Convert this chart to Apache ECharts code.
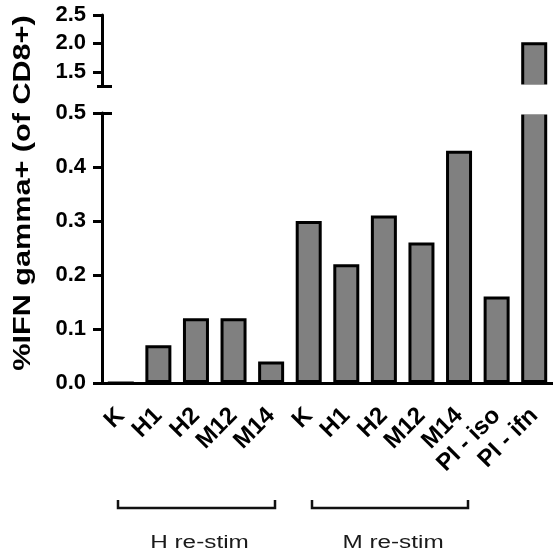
<!DOCTYPE html>
<html>
<head>
<meta charset="utf-8">
<script src="https://cdn.jsdelivr.net/npm/echarts@6/dist/echarts.min.js"></script>
<style>
  html, body { margin: 0; padding: 0; background: #fff; }
  #chart { width: 553px; height: 552px; }
</style>
</head>
<body>
<div id="chart"></div>
<script>
// Stimulation conditions along the x axis
const categories = ['K', 'H1', 'H2', 'M12', 'M14', 'K', 'H1', 'H2', 'M12', 'M14', 'PI - iso', 'PI - ifn'];
// % IFN-gamma positive cells among CD8+ cells
const ifnValues = [0, 0.07, 0.12, 0.12, 0.04, 0.30, 0.22, 0.31, 0.26, 0.43, 0.16, 2.02];
// Broken y axis: lower and upper segments
const lowerRange = [0, 0.5];
const upperRange = [1.25, 2.5];
const upperTickValues = [1.5, 2.0, 2.5];
const groupLabels = ['H re-stim', 'M re-stim'];

const FONT = '"Liberation Sans", Arial, Helvetica, sans-serif';
const BAR_WIDTH = 26;

const chart = echarts.init(document.getElementById('chart'), null, { renderer: 'canvas' });

const axisLineStyle = { color: '#000', width: 3 };
const tickStyle = { color: '#000', width: 3 };
const tickLabel = {
  color: '#000', fontFamily: FONT, fontWeight: 'bold', fontSize: 22, margin: 16,
  formatter: v => Number(v).toFixed(1)
};

// a y axis that only draws one cap tick (for the ends at the axis break)
function capAxis(gridIndex, range, value, inside, length) {
  return {
    type: 'value', gridIndex, position: 'left', offset: 0, min: range[0], max: range[1],
    axisLine: { show: false }, axisLabel: { show: false }, splitLine: { show: false },
    axisTick: { show: true, inside, length, customValues: [value], lineStyle: tickStyle }
  };
}

const option = {
  animation: false,
  backgroundColor: '#fff',
  grid: [
    { left: 102, right: 0, top: 113, height: 270 },
    { left: 102, right: 0, top: 15, height: 71 }
  ],
  xAxis: [
    {
      type: 'category', gridIndex: 0, data: categories,
      axisLine: { lineStyle: axisLineStyle },
      axisTick: { alignWithLabel: true, length: 10, lineStyle: tickStyle },
      axisLabel: {
        interval: 0, rotate: 45, margin: 29, color: '#000',
        fontFamily: FONT, fontWeight: 'bold', fontSize: 24
      }
    },
    { type: 'category', gridIndex: 1, data: categories, show: false }
  ],
  yAxis: [
    {
      type: 'value', gridIndex: 0, position: 'left', min: lowerRange[0], max: lowerRange[1], interval: 0.1,
      axisLine: { show: true, onZero: false, lineStyle: axisLineStyle },
      axisTick: { show: true, length: 9, lineStyle: tickStyle },
      axisLabel: tickLabel,
      splitLine: { show: false }
    },
    {
      type: 'value', gridIndex: 1, position: 'left', min: upperRange[0], max: upperRange[1],
      axisLine: { show: true, onZero: false, lineStyle: axisLineStyle },
      axisTick: { show: true, length: 9, customValues: upperTickValues, lineStyle: tickStyle },
      axisLabel: Object.assign({}, tickLabel, { customValues: upperTickValues }),
      splitLine: { show: false }
    },
    capAxis(0, lowerRange, lowerRange[1], true, 10),
    capAxis(1, upperRange, upperRange[0], true, 10),
    capAxis(1, upperRange, upperRange[0], false, 5)
  ],
  series: [
    {
      type: 'bar', xAxisIndex: 0, yAxisIndex: 0, data: ifnValues, barWidth: BAR_WIDTH,
      itemStyle: { color: '#808080', borderColor: '#000', borderWidth: 3 }
    },
    {
      type: 'bar', xAxisIndex: 1, yAxisIndex: 1, barWidth: BAR_WIDTH,
      data: ifnValues.map(v => (v > upperRange[0] ? v : '-')),
      itemStyle: { color: '#808080', borderColor: '#000', borderWidth: 3 }
    }
  ]
};

chart.setOption(option);

// Open the cut ends of the bar that crosses the axis break
const graphics = [];
ifnValues.forEach((v, i) => {
  if (v <= lowerRange[1]) return;
  const [cx, yLowTop] = chart.convertToPixel({ xAxisIndex: 0, yAxisIndex: 0 }, [i, lowerRange[1]]);
  const yUpBottom = chart.convertToPixel({ xAxisIndex: 1, yAxisIndex: 1 }, [i, upperRange[0]])[1];
  graphics.push({
    type: 'rect', z: 100,
    shape: { x: cx - BAR_WIDTH / 2 - 4, y: yUpBottom - 1.6, width: BAR_WIDTH + 8, height: yLowTop - yUpBottom + 3.2 },
    style: { fill: '#fff' }
  });
});

// y axis title
graphics.push({
  type: 'text', z: 100, x: 24, y: 193, rotation: Math.PI / 2, scaleX: 1.33,
  style: {
    text: '%IFN gamma+ (of CD8+)', fill: '#000', align: 'center', verticalAlign: 'middle',
    font: 'bold 23px ' + FONT
  }
});

// group brackets under the category labels
const brackets = [[118, 275], [312, 468]];
brackets.forEach(([x0, x1], k) => {
  graphics.push({
    type: 'polyline', z: 100,
    shape: { points: [[x0, 500], [x0, 508], [x1, 508], [x1, 500]] },
    style: { stroke: '#111', lineWidth: 2.5, fill: null }
  });
  graphics.push({
    type: 'text', z: 100, x: (x0 + x1) / 2 + 3, y: 543, scaleX: 1.35,
    style: {
      text: groupLabels[k], fill: '#1a1a1a', align: 'center', verticalAlign: 'middle',
      font: '18px ' + FONT
    }
  });
});

chart.setOption({ graphic: graphics });
</script>
</body>
</html>
